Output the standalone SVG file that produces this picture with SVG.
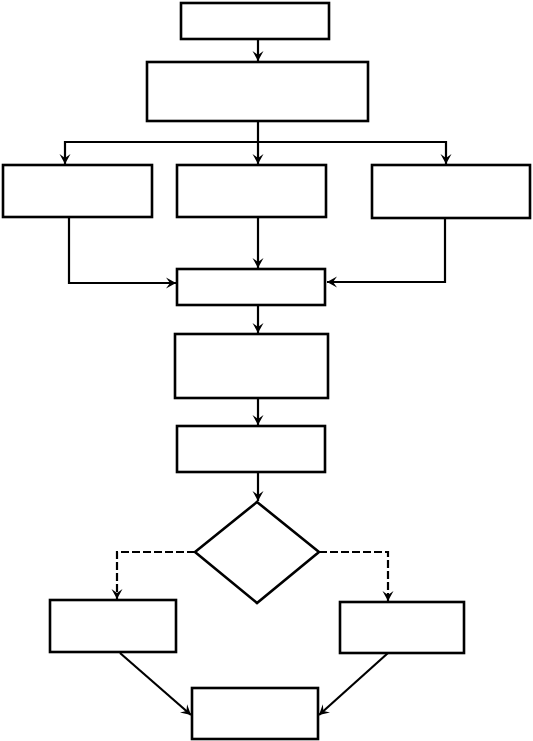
<svg xmlns="http://www.w3.org/2000/svg" width="533" height="741" viewBox="0 0 533 741">
<defs>
<marker id="ah" markerWidth="12" markerHeight="12" refX="10" refY="6" orient="auto" markerUnits="userSpaceOnUse">
<path d="M0,0.5 L10,6 L0,11.5 L4,6 Z" fill="#000"/>
</marker>
</defs>
<style>
.n{fill:#fff;stroke:#000;stroke-width:2.6}
.c{fill:none;stroke:#000;stroke-width:2.2;marker-end:url(#ah)}
.d{stroke-dasharray:8 3}
</style>
<rect width="533" height="741" fill="#fff"/>
<g id="connectors">
<path class="c" d="M258,40 V61"/>
<path class="c" d="M258,121 V142 H65 V164"/>
<path class="c" d="M258,142 V164"/>
<path class="c" d="M258,142 H446 V164"/>
<path class="c" d="M69,217 V283 H176"/>
<path class="c" d="M258,217 V268"/>
<path class="c" d="M445,218 V282 H327"/>
<path class="c" d="M258,305 V333"/>
<path class="c" d="M258,398 V425"/>
<path class="c" d="M258,472 V501"/>
<path class="c d" d="M195,552 H117 V599"/>
<path class="c d" d="M319,552 H388 V601"/>
<path class="c" d="M120,653 L191,715"/>
<path class="c" d="M388,653 L319,715"/>
</g>
<g id="n1"><rect class="n" x="181" y="3" width="148" height="36"/></g>
<g id="n2"><rect class="n" x="147" y="62" width="221" height="59"/></g>
<g id="n3"><rect class="n" x="3" y="165" width="149" height="52"/></g>
<g id="n4"><rect class="n" x="177" y="165" width="149" height="52"/></g>
<g id="n5"><rect class="n" x="372" y="165" width="158" height="53"/></g>
<g id="n6"><rect class="n" x="177" y="269" width="148" height="36"/></g>
<g id="n7"><rect class="n" x="175" y="334" width="153" height="64"/></g>
<g id="n8"><rect class="n" x="177" y="426" width="148" height="46"/></g>
<g id="n9"><polygon class="n" points="257,502 319,552 257,603 195,552"/></g>
<g id="n10"><rect class="n" x="50" y="600" width="126" height="52"/></g>
<g id="n11"><rect class="n" x="340" y="602" width="124" height="51"/></g>
<g id="n12"><rect class="n" x="192" y="688" width="126" height="51"/></g>
</svg>
